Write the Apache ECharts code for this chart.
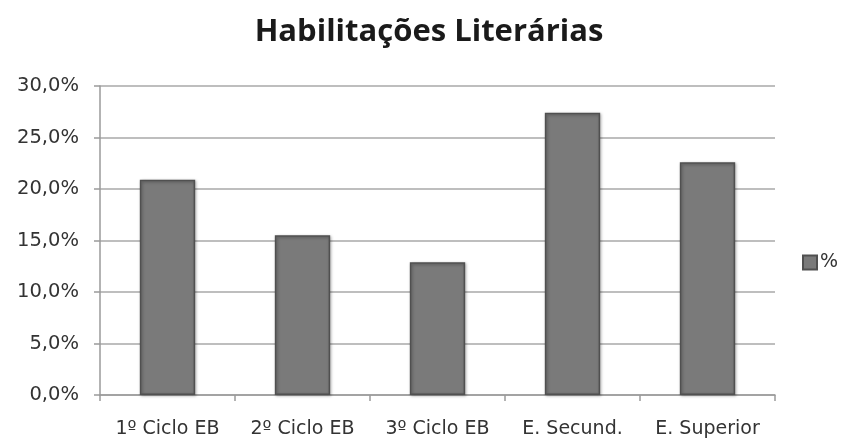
<!DOCTYPE html>
<html>
<head>
<meta charset="utf-8">
<script src="https://cdn.jsdelivr.net/npm/echarts@6/dist/echarts.min.js"></script>
<style>
  html, body { margin: 0; padding: 0; background: #fff; }
  #chart { width: 858px; height: 441px; }
</style>
</head>
<body>
<div id="chart"></div>
<script>
const categories = ['1º Ciclo EB', '2º Ciclo EB', '3º Ciclo EB', 'E. Secund.', 'E. Superior'];
const percent = [20.9, 15.5, 12.9, 27.4, 22.6];
const seriesName = '%';

const chart = echarts.init(document.getElementById('chart'), null, { renderer: 'canvas' });

chart.setOption({
  backgroundColor: '#ffffff',
  animation: false,
  textStyle: { fontFamily: 'DejaVu Sans' },
  title: {
    text: 'Habilitações Literárias',
    left: 'center',
    top: 12,
    textStyle: { fontFamily: 'Open Sans', fontSize: 31, fontWeight: 'bold', color: '#1a1a1a' }
  },
  legend: {
    data: [seriesName],
    left: 797,
    top: 248,
    orient: 'vertical',
    icon: 'rect',
    itemWidth: 14,
    itemHeight: 14,
    itemGap: 5,
    textStyle: { fontFamily: 'DejaVu Sans', fontSize: 19, color: '#333', padding: [0, 0, 0, -2] }
  },
  grid: { left: 100, right: 83, top: 86, bottom: 46 },
  xAxis: {
    type: 'category',
    data: categories,
    axisLine: { lineStyle: { color: '#9a9a9a', width: 1.5 } },
    axisTick: { show: true, interval: 0, length: 6, lineStyle: { color: '#9a9a9a', width: 1.5 } },
    axisLabel: { interval: 0, hideOverlap: false, fontFamily: 'DejaVu Sans', fontSize: 19, color: '#333', margin: 25 }
  },
  yAxis: {
    type: 'value',
    min: 0,
    max: 30,
    interval: 5,
    axisLine: { show: true, lineStyle: { color: '#9a9a9a', width: 1.5 } },
    axisTick: { show: true, inside: false, length: 6, lineStyle: { color: '#9a9a9a', width: 1.5 } },
    splitLine: { lineStyle: { color: '#a8a8a8', width: 1.5 } },
    axisLabel: {
      fontFamily: 'DejaVu Sans',
      fontSize: 19.5,
      color: '#333',
      margin: 21,
      formatter: v => v.toFixed(1).replace('.', ',') + '%'
    }
  },
  series: [{
    name: seriesName,
    type: 'bar',
    data: percent,
    barWidth: '41%',
    itemStyle: {
      color: '#7a7a7a',
      borderColor: '#505050',
      borderWidth: 1.5,
      shadowColor: 'rgba(0,0,0,0.35)',
      shadowBlur: 3,
      shadowOffsetX: 1,
      shadowOffsetY: 1
    }
  }]
});
</script>
</body>
</html>
